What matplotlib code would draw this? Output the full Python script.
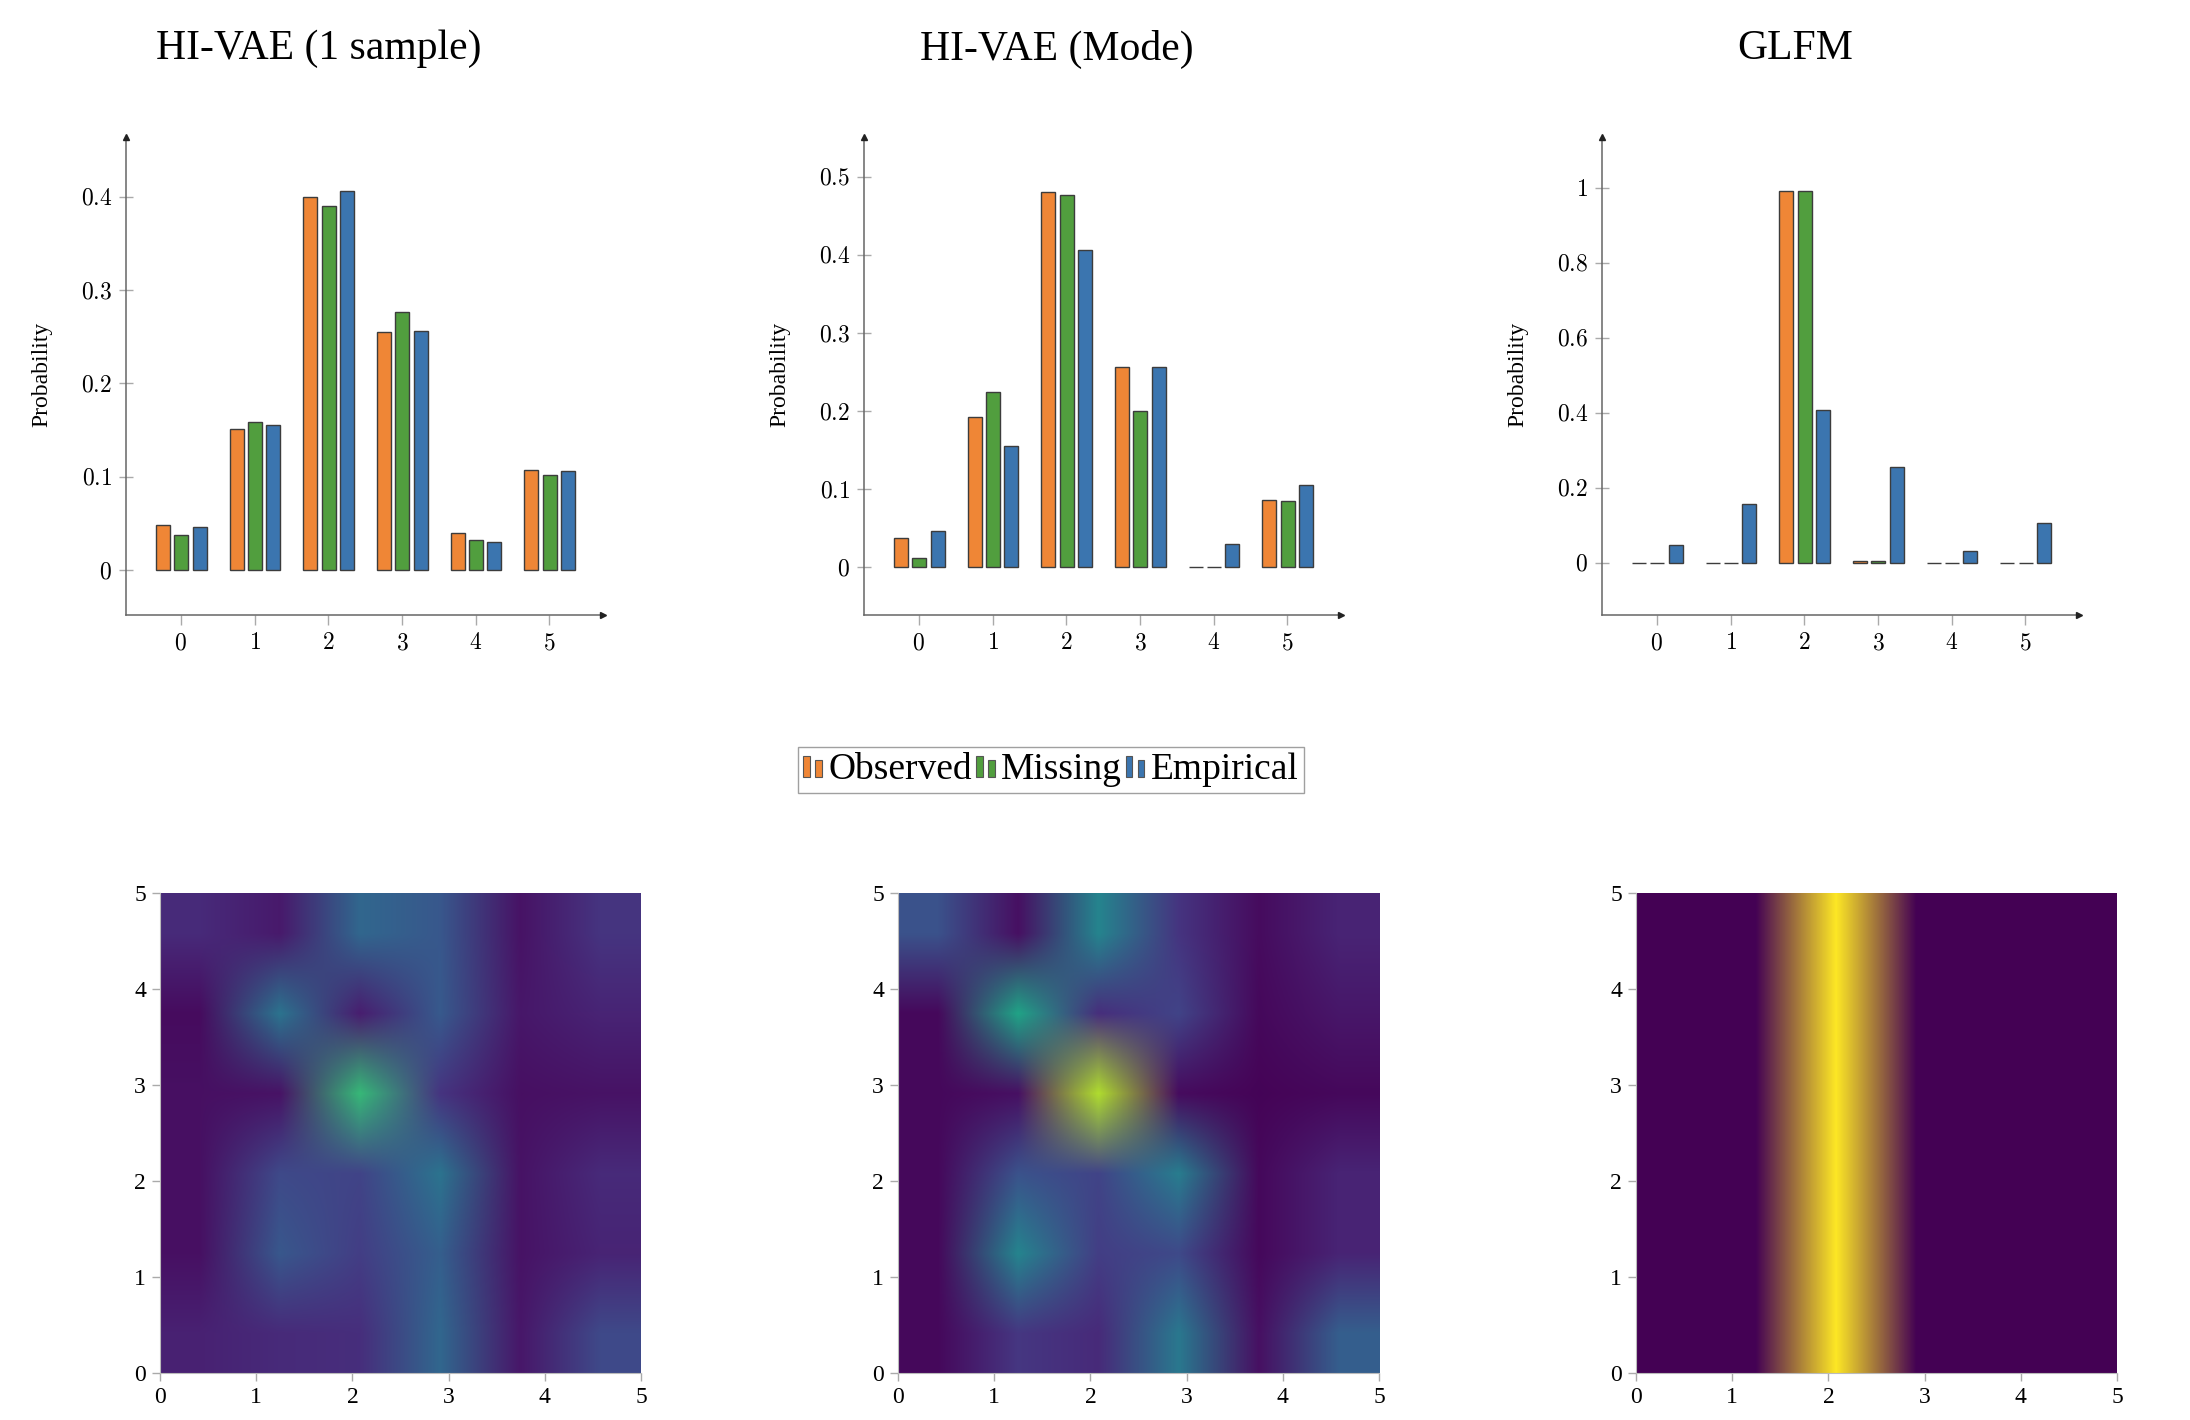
import numpy as np
import matplotlib
matplotlib.use("Agg")
import matplotlib.pyplot as plt
from matplotlib.legend_handler import HandlerBase
from matplotlib.patches import Rectangle
from matplotlib.ticker import FuncFormatter

# ---------------- data ----------------
categories = [0, 1, 2, 3, 4, 5]
series_names = ["Observed", "Missing", "Empirical"]
titles = ["HI-VAE (1 sample)", "HI-VAE (Mode)", "GLFM"]

empirical = [0.046, 0.155, 0.406, 0.256, 0.030, 0.106]

vae1_observed = [0.048, 0.151, 0.400, 0.255, 0.040, 0.107]
vae1_missing = [0.038, 0.159, 0.390, 0.277, 0.032, 0.102]

mode_observed = [0.037, 0.192, 0.481, 0.256, 0.001, 0.086]
mode_missing = [0.012, 0.224, 0.477, 0.200, 0.001, 0.085]

glfm_observed = [0.0, 0.0, 0.993, 0.005, 0.0, 0.0]
glfm_missing = [0.0, 0.0, 0.993, 0.004, 0.0, 0.0]

vae1_yticks = [0, 0.1, 0.2, 0.3, 0.4]
mode_yticks = [0, 0.1, 0.2, 0.3, 0.4, 0.5]
glfm_yticks = [0, 0.2, 0.4, 0.6, 0.8, 1]

vae1_ylim = (-0.048, 0.464)
mode_ylim = (-0.061, 0.551)
glfm_ylim = (-0.14, 1.136)

heat_ticks = [0, 1, 2, 3, 4, 5]

# rows from bottom (y=0) to top (y=5), columns x=0..5
heat_vae1 = [
    [0.09, 0.12, 0.13, 0.33, 0.06, 0.22],
    [0.04, 0.27, 0.18, 0.30, 0.05, 0.10],
    [0.04, 0.22, 0.20, 0.38, 0.05, 0.12],
    [0.04, 0.05, 0.67, 0.15, 0.04, 0.05],
    [0.03, 0.38, 0.08, 0.28, 0.06, 0.10],
    [0.12, 0.07, 0.33, 0.27, 0.05, 0.15],
]
heat_mode = [
    [0.02, 0.16, 0.12, 0.40, 0.04, 0.30],
    [0.02, 0.45, 0.18, 0.22, 0.02, 0.10],
    [0.02, 0.25, 0.20, 0.42, 0.02, 0.10],
    [0.02, 0.04, 0.88, 0.03, 0.01, 0.02],
    [0.02, 0.58, 0.13, 0.20, 0.02, 0.06],
    [0.25, 0.04, 0.45, 0.15, 0.03, 0.10],
]
heat_glfm = [
    [0.0, 0.0, 1.0, 0.0, 0.0, 0.0],
    [0.0, 0.0, 1.0, 0.0, 0.0, 0.0],
    [0.0, 0.0, 1.0, 0.0, 0.0, 0.0],
    [0.0, 0.0, 1.0, 0.0, 0.0, 0.0],
    [0.0, 0.0, 1.0, 0.0, 0.0, 0.0],
    [0.0, 0.0, 1.0, 0.0, 0.0, 0.0],
]

# ---------------- style ----------------
plt.rcParams["font.family"] = ["Liberation Serif", "DejaVu Serif"]
plt.rcParams["mathtext.fontset"] = "cm"

bar_colors = ["#ef8636", "#519e3e", "#3b75af"]
edge_col = "#3c3c3c"
axis_col = "#666666"
tick_col = "#aaaaaa"

W, H = 2190, 1420
fig = plt.figure(figsize=(W / 100, H / 100), dpi=100)


def fx(px):
    return px / W


def fy(py):
    return 1 - py / H


bar_sets = [
    (vae1_observed, vae1_missing, empirical, vae1_yticks, vae1_ylim),
    (mode_observed, mode_missing, empirical, mode_yticks, mode_ylim),
    (glfm_observed, glfm_missing, empirical, glfm_yticks, glfm_ylim),
]
heat_sets = [heat_vae1, heat_mode, heat_glfm]

offset = 738
bar_left, bar_w = 126, 477
bar_top, bar_bottom = 137, 615
heat_left, heat_w = 160, 481
heat_top, heat_bottom = 893, 1373

x = np.array(categories, dtype=float)
offsets = [-0.245, 0.005, 0.255]
width = 0.19

math_fmt = FuncFormatter(lambda v, p: f"${v:g}$")

proxies = []
for i, (obs, mis, emp, yt, yl) in enumerate(bar_sets):
    L = bar_left + i * offset
    ax = fig.add_axes([fx(L), fy(bar_bottom), bar_w / W, (bar_bottom - bar_top) / H])
    for k, vals in enumerate([obs, mis, emp]):
        ax.bar(x + offsets[k], vals, width=width, color=bar_colors[k],
               edgecolor=edge_col, linewidth=1.0, zorder=3)
        if i == 0:
            proxies.append(Rectangle((0, 0), 1, 1, facecolor=bar_colors[k], edgecolor=edge_col))
    ax.set_xlim(-0.745, 5.73)
    ax.set_ylim(*yl)
    ax.set_xticks(categories)
    ax.set_yticks(yt)
    ax.xaxis.set_major_formatter(math_fmt)
    ax.yaxis.set_major_formatter(math_fmt)
    for s in ["top", "right"]:
        ax.spines[s].set_visible(False)
    for s in ["left", "bottom"]:
        ax.spines[s].set_color(axis_col)
        ax.spines[s].set_linewidth(1.1)
    ax.tick_params(axis="x", direction="out", length=7, width=1.0, color=tick_col,
                   labelsize=17, pad=6)
    ax.tick_params(axis="y", direction="inout", length=10, width=1.0, color=tick_col,
                   labelsize=17, pad=5)
    ax.plot(1, 0, marker=">", color="#222222", markersize=5,
            transform=ax.transAxes, clip_on=False, zorder=5)
    ax.plot(0, 1, marker="^", color="#222222", markersize=5,
            transform=ax.transAxes, clip_on=False, zorder=5)
    fig.text(fx(42 + i * offset), fy(374), "Probability", rotation=90,
             ha="center", va="center", fontsize=17)
    fig.text(fx(319 + i * offset), fy(49), titles[i], ha="center", va="center", fontsize=30)

for i, hm in enumerate(heat_sets):
    L = heat_left + i * offset
    ax = fig.add_axes([fx(L), fy(heat_bottom), heat_w / W, (heat_bottom - heat_top) / H])
    ax.imshow(np.array(hm), origin="lower", extent=[0, 5, 0, 5], cmap="viridis",
              vmin=0, vmax=1, interpolation="bilinear", interpolation_stage="rgba",
              aspect="auto")
    ax.set_xticks(heat_ticks)
    ax.set_yticks(heat_ticks)
    for s in ["top", "right"]:
        ax.spines[s].set_visible(False)
    for s in ["left", "bottom"]:
        ax.spines[s].set_color("#bbbbbb")
        ax.spines[s].set_linewidth(0.8)
    ax.tick_params(direction="out", length=6, width=1.0, color="#aaaaaa",
                   labelsize=17, pad=4)


class TwoBarHandler(HandlerBase):
    def create_artists(self, legend, orig_handle, xdescent, ydescent, width, height,
                       fontsize, trans):
        fc = orig_handle.get_facecolor()
        bw = width * 0.32
        r1 = Rectangle((-xdescent, -ydescent), bw, height * 0.95, facecolor=fc,
                       edgecolor="#555555", linewidth=0.8, transform=trans)
        r2 = Rectangle((-xdescent + width * 0.58, -ydescent), bw, height * 0.75,
                       facecolor=fc, edgecolor="#555555", linewidth=0.8, transform=trans)
        return [r1, r2]


leg = fig.legend(proxies, series_names, loc="center", bbox_to_anchor=(fx(1051), fy(770)),
                 ncol=3, fontsize=27, handler_map={Rectangle: TwoBarHandler()},
                 handlelength=0.55, handleheight=0.55, handletextpad=0.12,
                 columnspacing=0.1, borderpad=0.15, borderaxespad=0,
                 frameon=True, fancybox=False)
leg.get_frame().set_edgecolor("#888888")
leg.get_frame().set_linewidth(1.0)

fig.savefig("out.png", dpi=100)
